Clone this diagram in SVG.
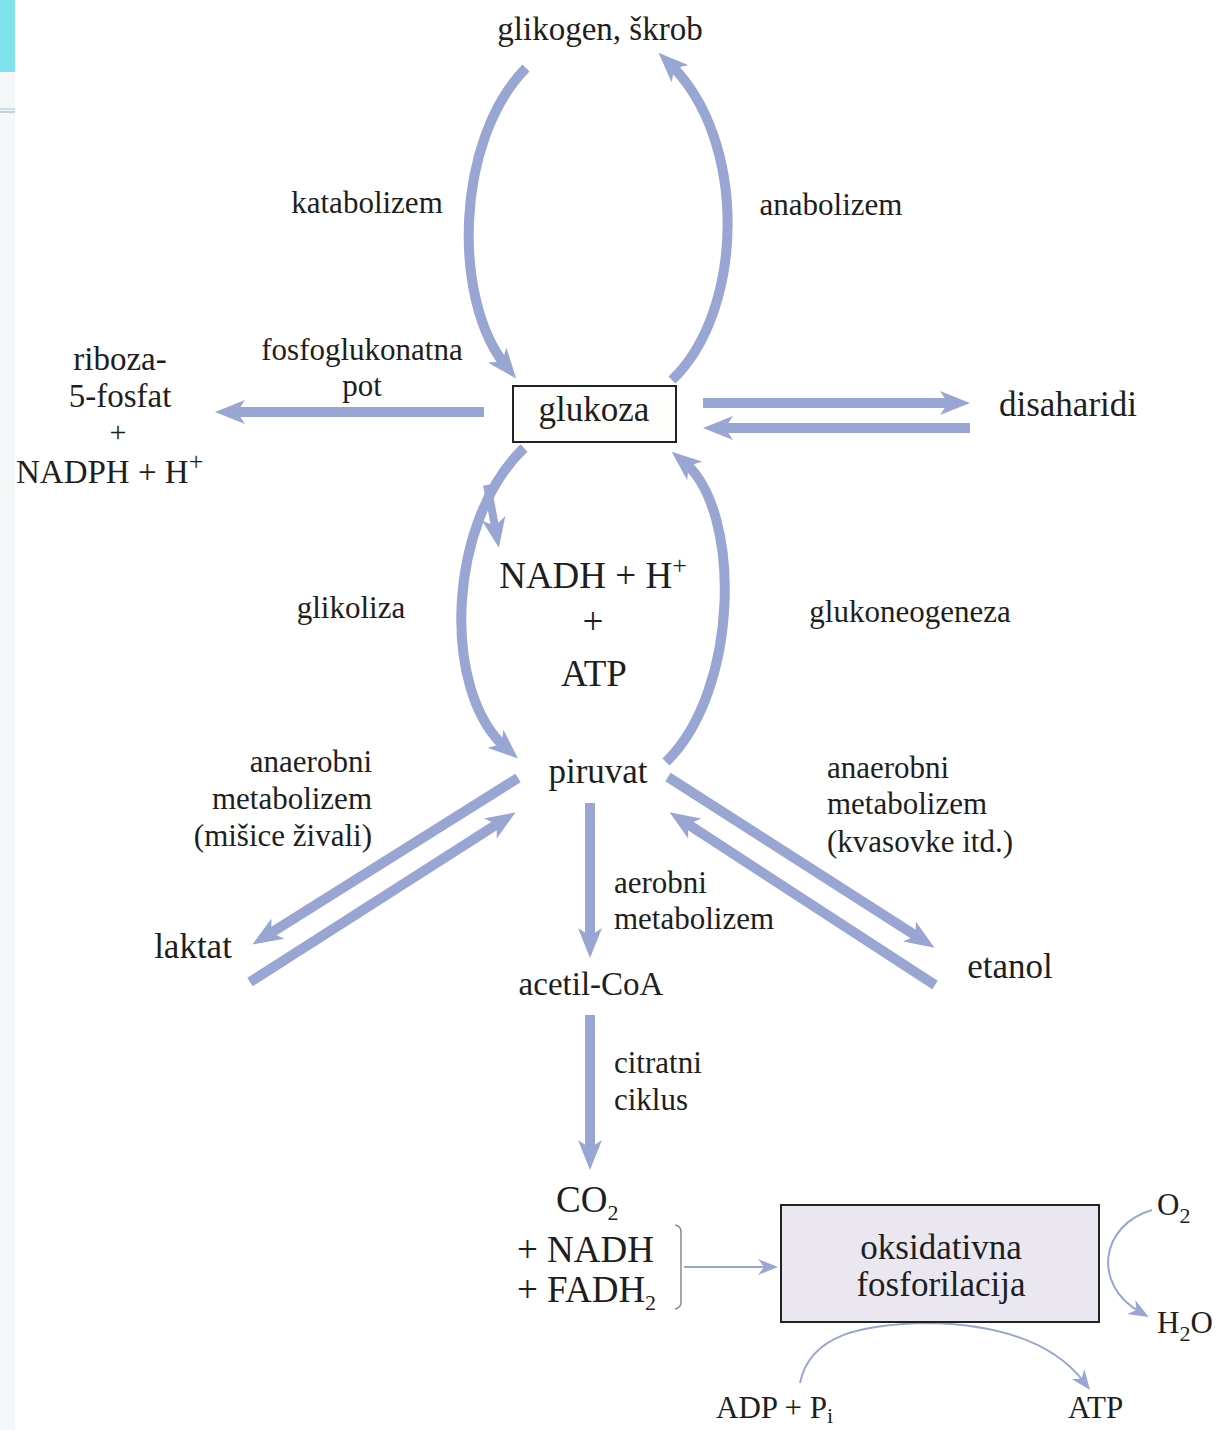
<svg xmlns="http://www.w3.org/2000/svg" width="1219" height="1430" viewBox="0 0 1219 1430">
<defs>
<style>
text{font-family:"Liberation Serif","Times New Roman",serif;fill:#1e1e1e;}
.lbl{font-size:31px;}
.node{font-size:35px;}
.big{font-size:37px;}
.band{fill:none;stroke:#99a5d3;stroke-width:10;marker-end:url(#head);}
.thin{fill:none;stroke:#9aa6d2;stroke-width:2;marker-end:url(#thinhead);}
.sup{font-size:26px;}
.sub{font-size:22px;}
</style>
<marker id="head" viewBox="0 0 30 24" refX="14" refY="12" markerWidth="30" markerHeight="24" markerUnits="userSpaceOnUse" orient="auto">
<path d="M0,0 L30,12 L0,24 L8,12 z" fill="#99a5d3"/>
</marker>
<marker id="thinhead" viewBox="0 0 20 16" refX="10" refY="8" markerWidth="20" markerHeight="16" markerUnits="userSpaceOnUse" orient="auto">
<path d="M0,0 L20,8 L0,16 L6,8 z" fill="#9aa6d2"/>
</marker>
</defs>
<rect width="1219" height="1430" fill="#ffffff"/>
<rect x="0" y="72" width="15" height="1358" fill="#f5f6f7"/>
<rect x="0" y="0" width="15" height="72" fill="#7fe3ee"/>
<line x1="0" y1="109" x2="15" y2="109" stroke="#7fd0dc" stroke-width="1"/>
<line x1="0" y1="112" x2="15" y2="112" stroke="#9aa2b8" stroke-width="1"/>

<g id="connectors">
<path class="band" d="M526,68 C455,140 452,300 506,366"/>
<path class="band" d="M672,380 C745,310 748,140 670,64"/>
<path class="band" d="M484,412 L231,412"/>
<path class="band" d="M703,403 L954,403"/>
<path class="band" d="M970,428 L719,428"/>
<path class="band" d="M524,448 C448,520 440,690 506,748"/>
<path class="band" style="stroke-width:8" d="M487,485 Q492,510 496,532"/>
<path class="band" d="M666,762 C740,690 742,510 684,462"/>
<path class="band" d="M518,778 L266,936"/>
<path class="band" d="M250,982 L502,821"/>
<path class="band" d="M668,777 L921,939"/>
<path class="band" d="M935,985 L683,821"/>
<path class="band" d="M590,803 L590,942"/>
<path class="band" d="M590,1015 L590,1154"/>
<path d="M675,1225 Q681,1226 681,1232 L681,1302 Q681,1308 675,1309" fill="none" stroke="#8a8a8a" stroke-width="1.5"/>
<path class="thin" d="M684,1267 L768,1267"/>
<path class="thin" d="M1152,1210 C1100,1225 1092,1285 1140,1312"/>
<path class="thin" d="M800,1383 C810,1335 860,1324 930,1323 C1010,1325 1058,1348 1084,1382"/>
</g>

<g id="glikogen"><text class="node" x="600" y="40" text-anchor="middle" style="font-size:33px">glikogen, škrob</text></g>
<g id="katabolizem"><text class="lbl" x="367" y="213" text-anchor="middle">katabolizem</text></g>
<g id="anabolizem"><text class="lbl" x="831" y="215" text-anchor="middle">anabolizem</text></g>
<g id="fosfoglukonatna"><text class="lbl" x="362" y="360" text-anchor="middle">fosfoglukonatna</text><text class="lbl" x="362" y="396" text-anchor="middle">pot</text></g>
<g id="riboza">
<text class="node" x="120" y="370" text-anchor="middle" style="font-size:33px">riboza-</text>
<text class="node" x="120" y="407" text-anchor="middle" style="font-size:33px">5-fosfat</text>
<text class="node" x="118" y="442" text-anchor="middle" style="font-size:30px">+</text>
<text class="node" x="16" y="483" style="font-size:33px">NADPH + H<tspan class="sup" dy="-13">+</tspan></text>
</g>
<g id="glukoza"><rect x="513" y="386" width="163" height="56" fill="#fdfdfb" stroke="#222" stroke-width="2"/><text class="node" x="594" y="421" text-anchor="middle">glukoza</text></g>
<g id="disaharidi"><text class="node" x="1068" y="416" text-anchor="middle">disaharidi</text></g>
<g id="nadh"><text class="big" x="593" y="588" text-anchor="middle">NADH + H<tspan class="sup" dy="-14">+</tspan></text>
<text class="big" x="593" y="634" text-anchor="middle">+</text>
<text class="big" x="594" y="686" text-anchor="middle">ATP</text></g>
<g id="glikoliza"><text class="lbl" x="351" y="618" text-anchor="middle">glikoliza</text></g>
<g id="glukoneogeneza"><text class="lbl" x="910" y="622" text-anchor="middle">glukoneogeneza</text></g>
<g id="piruvat"><text class="node" x="598" y="783" text-anchor="middle">piruvat</text></g>
<g id="anaerobni-l">
<text class="lbl" x="372" y="772" text-anchor="end">anaerobni</text>
<text class="lbl" x="372" y="809" text-anchor="end">metabolizem</text>
<text class="lbl" x="372" y="846" text-anchor="end">(mišice živali)</text>
</g>
<g id="anaerobni-r">
<text class="lbl" x="827" y="778">anaerobni</text>
<text class="lbl" x="827" y="814">metabolizem</text>
<text class="lbl" x="827" y="852">(kvasovke itd.)</text>
</g>
<g id="laktat"><text class="node" x="193" y="958" text-anchor="middle">laktat</text></g>
<g id="etanol"><text class="node" x="1010" y="978" text-anchor="middle">etanol</text></g>
<g id="aerobni"><text class="lbl" x="614" y="893">aerobni</text><text class="lbl" x="614" y="929">metabolizem</text></g>
<g id="acetil"><text class="node" x="591" y="995" text-anchor="middle" style="font-size:33px">acetil-CoA</text></g>
<g id="citratni"><text class="lbl" x="614" y="1073">citratni</text><text class="lbl" x="614" y="1110">ciklus</text></g>
<g id="products">
<text class="big" x="556" y="1212">CO<tspan class="sub" dy="8">2</tspan></text>
<text class="big" x="517" y="1262">+ NADH</text>
<text class="big" x="517" y="1302">+ FADH<tspan class="sub" dy="8">2</tspan></text>
</g>
<g id="oksidativna"><rect x="781" y="1205" width="318" height="117" fill="#ebe7f1" stroke="#222" stroke-width="2"/>
<text class="node" x="941" y="1259" text-anchor="middle">oksidativna</text>
<text class="node" x="941" y="1296" text-anchor="middle">fosforilacija</text></g>
<g id="o2"><text class="lbl" x="1157" y="1215">O<tspan class="sub" dy="8">2</tspan></text></g>
<g id="h2o"><text class="lbl" x="1157" y="1333">H<tspan class="sub" dy="8">2</tspan><tspan dy="-8">O</tspan></text></g>
<g id="adp"><text class="lbl" x="716" y="1418">ADP + P<tspan class="sub" dy="5">i</tspan></text></g>
<g id="atp"><text class="lbl" x="1068" y="1418">ATP</text></g>
</svg>
